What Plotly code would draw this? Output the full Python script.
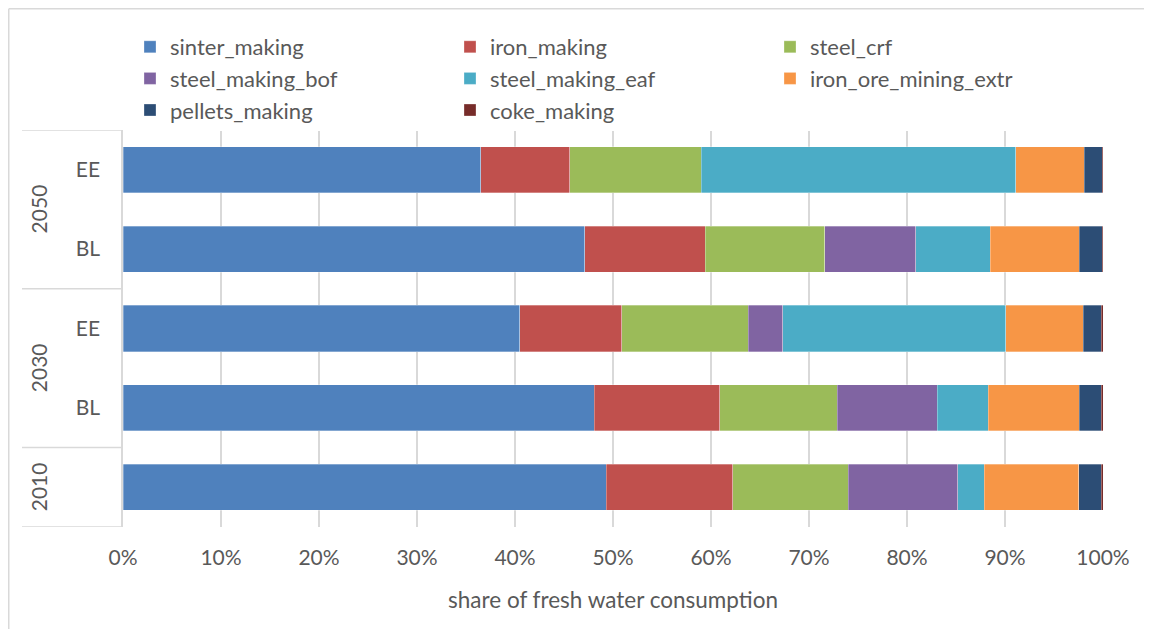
import plotly.graph_objects as go

rows = ["2010", "2030 BL", "2030 EE", "2050 BL", "2050 EE"]
row_labels = ["", "BL", "EE", "BL", "EE"]
years = ["2010", "2030", "2050"]
year_pos = [0, 1.5, 3.5]
group_bounds = [-0.5, 0.5, 2.5, 4.5]

series = ["sinter_making", "iron_making", "steel_crf", "steel_making_bof",
          "steel_making_eaf", "iron_ore_mining_extr", "pellets_making", "coke_making"]

sinter_making = [49.3, 48.1, 40.5, 47.1, 36.5]
iron_making = [12.9, 12.8, 10.4, 12.3, 9.1]
steel_crf = [11.8, 12.0, 12.9, 12.2, 13.4]
steel_making_bof = [11.2, 10.2, 3.5, 9.3, 0.0]
steel_making_eaf = [2.7, 5.2, 22.8, 7.6, 32.1]
iron_ore_mining_extr = [9.6, 9.3, 7.9, 9.1, 7.0]
pellets_making = [2.3, 2.2, 1.8, 2.3, 1.8]
coke_making = [0.2, 0.2, 0.2, 0.1, 0.1]

values = [sinter_making, iron_making, steel_crf, steel_making_bof,
          steel_making_eaf, iron_ore_mining_extr, pellets_making, coke_making]
colors = ["#4F81BD", "#C0504D", "#9BBB59", "#8064A2",
          "#4BACC6", "#F79646", "#2C4D75", "#772C2A"]

x_ticks = [0, 10, 20, 30, 40, 50, 60, 70, 80, 90, 100]
x_tick_labels = ["0%", "10%", "20%", "30%", "40%", "50%",
                 "60%", "70%", "80%", "90%", "100%"]

FONT = "Lato"
GREY = "#595959"
LINE = "#D9D9D9"

fig = go.Figure()
for name, vals, col in zip(series, values, colors):
    fig.add_trace(go.Bar(
        y=rows, x=vals, name=name, orientation="h",
        marker=dict(color=col, line=dict(color="rgba(255,255,255,0.5)", width=0.6)),
    ))

W, H = 1144, 621
L, R, T, B = 115, 49, 122, 102
pw, ph = W - L - R, H - T - B

def px_to_paper_x(px):
    return (px - L) / pw

def px_to_paper_y(py):
    return (H - B - py) / ph

shapes = []
for gb in group_bounds:
    shapes.append(dict(type="line", xref="paper", yref="y",
                       x0=px_to_paper_x(14), x1=0, y0=gb, y1=gb,
                       line=dict(color=LINE, width=1.5)))
# outer frame (top and left edges)
shapes.append(dict(type="line", xref="paper", yref="paper",
                   x0=px_to_paper_x(0.75), x1=px_to_paper_x(W + 10),
                   y0=px_to_paper_y(0.75), y1=px_to_paper_y(0.75),
                   line=dict(color=LINE, width=1.5)))
shapes.append(dict(type="line", xref="paper", yref="paper",
                   x0=px_to_paper_x(0.75), x1=px_to_paper_x(0.75),
                   y0=px_to_paper_y(0.75), y1=px_to_paper_y(H + 10),
                   line=dict(color=LINE, width=1.5)))

annotations = []
for yr, yp in zip(years, year_pos):
    annotations.append(dict(text=yr, x=px_to_paper_x(30), xref="paper",
                            xanchor="center", yanchor="middle",
                            y=yp, yref="y", textangle=-90, showarrow=False,
                            font=dict(family=FONT, size=21, color=GREY)))

fig.update_layout(
    barmode="stack",
    bargap=0.42,
    width=W, height=H,
    margin=dict(l=L, r=R, t=T, b=B),
    plot_bgcolor="white", paper_bgcolor="white",
    font=dict(family=FONT, size=21, color=GREY),
    shapes=shapes,
    annotations=annotations,
    legend=dict(orientation="h", x=px_to_paper_x(122), xanchor="left",
                y=px_to_paper_y(18), yanchor="top",
                entrywidth=275, entrywidthmode="pixels",
                font=dict(family=FONT, size=22, color=GREY),
                traceorder="normal", itemclick=False),
    xaxis=dict(range=[0, 100], tickvals=x_ticks, ticktext=x_tick_labels,
               showgrid=True, gridcolor=LINE, gridwidth=1.5,
               zeroline=False, showline=False, ticks="",
               ticklabelstandoff=16,
               title=dict(text="share of fresh water consumption",
                          font=dict(family=FONT, size=22.5, color=GREY), standoff=24),
               tickfont=dict(family=FONT, size=21, color=GREY)),
    yaxis=dict(type="category", categoryorder="array", categoryarray=rows,
               tickvals=rows, ticktext=row_labels, range=[-0.5, 4.5],
               showline=True, linecolor=LINE, linewidth=1.5, ticks="",
               ticklabelstandoff=17, showgrid=False,
               tickfont=dict(family=FONT, size=21, color=GREY)),
)

fig.write_html("out.html")
